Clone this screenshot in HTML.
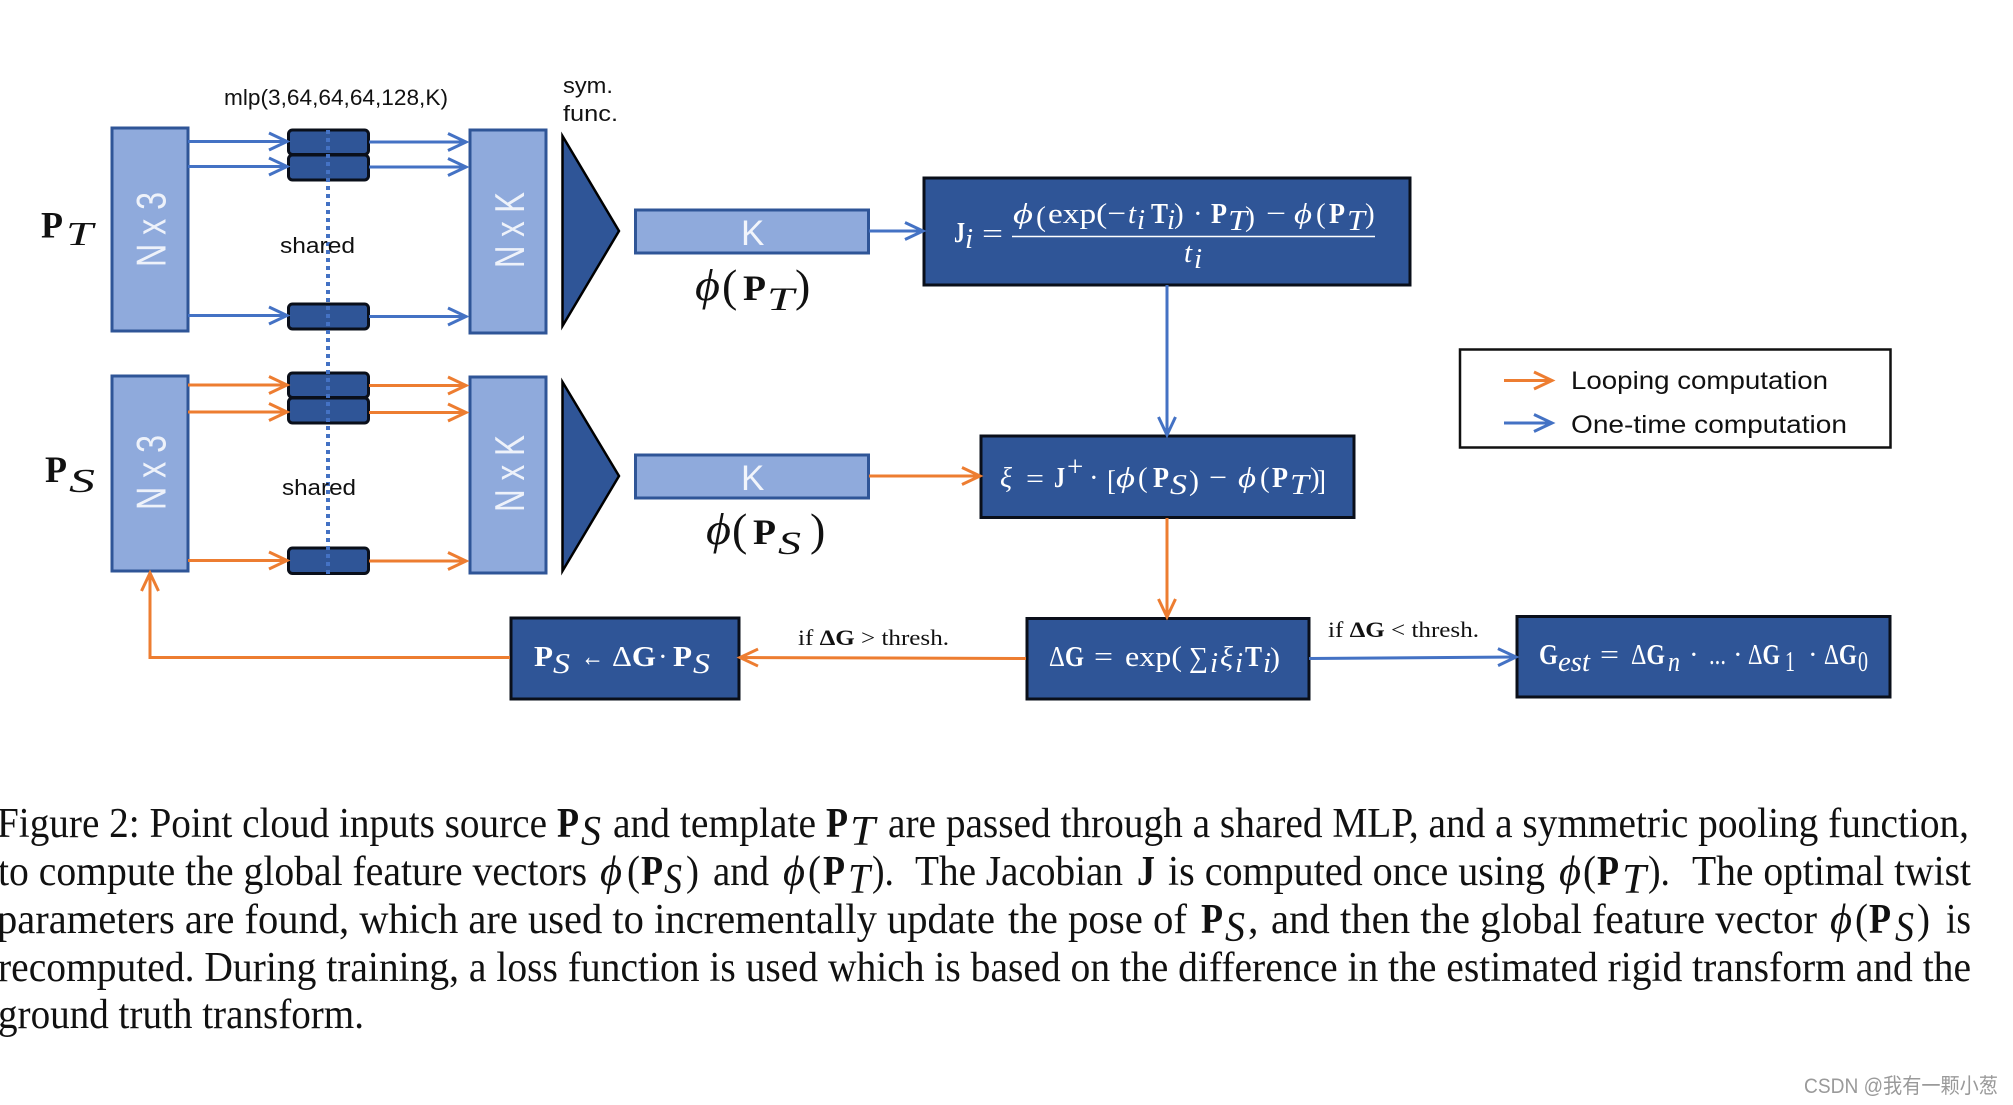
<!DOCTYPE html>
<html><head><meta charset="utf-8"><title>Figure 2</title>
<style>
html,body{margin:0;padding:0;background:#fff}
svg{display:block}
.s{font-family:"Liberation Sans",sans-serif;fill:#111}
.c{font-family:"Liberation Serif",serif;font-size:42px;fill:#111}
.b{font-weight:bold}
.i{font-style:italic}
.m{font-family:"Liberation Serif","DejaVu Serif",serif;font-size:29px;fill:#fff}
.k{font-family:"Liberation Serif","DejaVu Serif",serif;fill:#111}
.lt{fill:#8faadc;stroke:#2f5597;stroke-width:3}
.dk{fill:#2f5597;stroke:#0a0f1a;stroke-width:3}
.bl{stroke:#4472c4;stroke-width:3;fill:none;marker-end:url(#mb)}
.or{stroke:#ed7d31;stroke-width:3;fill:none;marker-end:url(#mo)}
.nx{font-family:"Liberation Sans",sans-serif;font-size:42px;fill:#eef2fa}
</style></head>
<body>
<svg xmlns="http://www.w3.org/2000/svg" width="2013" height="1105" viewBox="0 0 2013 1105">
<defs>
<marker id="mb" markerUnits="userSpaceOnUse" markerWidth="26" markerHeight="26" refX="21" refY="13" orient="auto"><path d="M3,4.5 L21,13 L3,21.5" fill="none" stroke="#4472c4" stroke-width="3"/></marker>
<marker id="mo" markerUnits="userSpaceOnUse" markerWidth="26" markerHeight="26" refX="21" refY="13" orient="auto"><path d="M3,4.5 L21,13 L3,21.5" fill="none" stroke="#ed7d31" stroke-width="3"/></marker>
</defs>

<!-- input / output blocks -->
<rect class="lt" x="112" y="128" width="76" height="203"/>
<rect class="lt" x="112" y="376" width="76" height="195"/>
<rect class="lt" x="470" y="130" width="76" height="203"/>
<rect class="lt" x="470" y="377" width="76" height="196"/>

<text class="nx" transform="translate(165.5,267) rotate(-90)" textLength="75" lengthAdjust="spacingAndGlyphs">N x 3</text>
<text class="nx" transform="translate(165.5,510) rotate(-90)" textLength="75" lengthAdjust="spacingAndGlyphs">N x 3</text>
<text class="nx" transform="translate(524,268) rotate(-90)" textLength="76" lengthAdjust="spacingAndGlyphs">N x K</text>
<text class="nx" transform="translate(524,512) rotate(-90)" textLength="77" lengthAdjust="spacingAndGlyphs">N x K</text>

<!-- mlp blocks -->
<rect class="dk" x="288.5" y="130" width="80" height="24.5" rx="4"/>
<rect class="dk" x="288.5" y="155" width="80" height="25" rx="4"/>
<rect class="dk" x="288.5" y="304" width="80" height="25" rx="4"/>
<rect class="dk" x="288.5" y="373" width="80" height="24.5" rx="4"/>
<rect class="dk" x="288.5" y="398" width="80" height="25" rx="4"/>
<rect class="dk" x="288.5" y="548" width="80" height="25.5" rx="4"/>

<line x1="328" y1="130" x2="328" y2="574" stroke="#4472c4" stroke-width="4" stroke-dasharray="4 4"/>

<!-- blue arrows top -->
<line class="bl" x1="188" y1="141.5" x2="287" y2="141.5"/>
<line class="bl" x1="188" y1="166.5" x2="287" y2="166.5"/>
<line class="bl" x1="188" y1="315.5" x2="287" y2="315.5"/>
<line class="bl" x1="369" y1="142" x2="466" y2="142"/>
<line class="bl" x1="369" y1="167" x2="466" y2="167"/>
<line class="bl" x1="369" y1="316.5" x2="466" y2="316.5"/>
<!-- orange arrows -->
<line class="or" x1="188" y1="385" x2="287" y2="385"/>
<line class="or" x1="188" y1="412" x2="287" y2="412"/>
<line class="or" x1="188" y1="560.5" x2="287" y2="560.5"/>
<line class="or" x1="369" y1="385.5" x2="466" y2="385.5"/>
<line class="or" x1="369" y1="412.5" x2="466" y2="412.5"/>
<line class="or" x1="369" y1="561" x2="466" y2="561"/>

<!-- triangles -->
<polygon points="562.5,136 619,231 562.5,326" fill="#2f5597" stroke="#000" stroke-width="2.5"/>
<polygon points="562.5,382 619,476 562.5,571" fill="#2f5597" stroke="#000" stroke-width="2.5"/>

<!-- K boxes -->
<rect class="lt" x="635.5" y="210" width="233" height="43"/>
<rect class="lt" x="635.5" y="455" width="233" height="43"/>
<text class="s" x="741" y="245" font-size="35" style="fill:#f2f5fb">K</text>
<text class="s" x="741" y="490" font-size="35" style="fill:#f2f5fb">K</text>

<!-- dark formula boxes -->
<rect class="dk" x="924" y="178" width="486" height="107"/>
<rect class="dk" x="981" y="436" width="373" height="81.5"/>
<rect class="dk" x="511" y="618" width="228" height="81"/>
<rect class="dk" x="1027" y="618.5" width="282" height="80.5"/>
<rect class="dk" x="1517" y="616.5" width="373" height="80.5"/>

<!-- connectors -->
<line class="bl" x1="869" y1="231" x2="923" y2="231"/>
<line class="bl" x1="1167" y1="285" x2="1167" y2="435"/>
<line class="or" x1="869" y1="476" x2="980" y2="476"/>
<line class="or" x1="1167" y1="518" x2="1167" y2="617"/>
<line class="or" x1="1026" y1="658.5" x2="740" y2="657.5"/>
<polyline class="or" points="510,657.5 150,657.5 150,573"/>
<line class="bl" x1="1309" y1="658.5" x2="1516" y2="657"/>

<!-- legend -->
<rect x="1460" y="349.5" width="430.5" height="98" fill="#fff" stroke="#111" stroke-width="2.5"/>
<line class="or" x1="1504" y1="380.5" x2="1552" y2="380.5"/>
<line class="bl" x1="1504" y1="423" x2="1552" y2="423"/>
<text class="s" x="1571" y="389" font-size="25" textLength="257" lengthAdjust="spacingAndGlyphs">Looping computation</text>
<text class="s" x="1571" y="433" font-size="25" textLength="276" lengthAdjust="spacingAndGlyphs">One-time computation</text>

<!-- small labels -->
<text class="s" x="224" y="105" font-size="22" textLength="224" lengthAdjust="spacingAndGlyphs">mlp(3,64,64,64,128,K)</text>
<text class="s" x="563" y="93" font-size="22" textLength="50" lengthAdjust="spacingAndGlyphs">sym.</text>
<text class="s" x="563" y="121" font-size="22" textLength="55" lengthAdjust="spacingAndGlyphs">func.</text>
<text class="s" x="280" y="253" font-size="22" textLength="75" lengthAdjust="spacingAndGlyphs">shared</text>
<text class="s" x="282" y="495" font-size="22" textLength="74" lengthAdjust="spacingAndGlyphs">shared</text>
<text class="k" x="798" y="645" font-size="22" textLength="151" lengthAdjust="spacingAndGlyphs">if <tspan class="b">ΔG</tspan> &gt; thresh.</text>
<text class="k" x="1328" y="637" font-size="22" textLength="151" lengthAdjust="spacingAndGlyphs">if <tspan class="b">ΔG</tspan> &lt; thresh.</text>

<!-- P labels -->
<text class="k b" x="41" y="237.5" font-size="37" textLength="22" lengthAdjust="spacingAndGlyphs">P</text>
<text class="k i" x="66" y="245" font-size="34" textLength="27" lengthAdjust="spacingAndGlyphs">T</text>
<text class="k b" x="45" y="482" font-size="37" textLength="22" lengthAdjust="spacingAndGlyphs">P</text>
<text class="k i" x="69" y="492" font-size="34" textLength="26" lengthAdjust="spacingAndGlyphs">S</text>

<!-- phi labels -->
<text class="k i" x="695" y="300" font-size="44" textLength="25" lengthAdjust="spacingAndGlyphs">ϕ</text>
<text class="k" x="722" y="301" font-size="46">(</text>
<text class="k b" x="743" y="300" font-size="36" textLength="23" lengthAdjust="spacingAndGlyphs">P</text>
<text class="k i" x="767" y="310" font-size="33" textLength="27" lengthAdjust="spacingAndGlyphs">T</text>
<text class="k" x="795" y="301" font-size="46">)</text>
<text class="k i" x="706" y="544" font-size="44" textLength="25" lengthAdjust="spacingAndGlyphs">ϕ</text>
<text class="k" x="732" y="545" font-size="46">(</text>
<text class="k b" x="753" y="544" font-size="36" textLength="23" lengthAdjust="spacingAndGlyphs">P</text>
<text class="k i" x="778" y="554" font-size="33" textLength="23" lengthAdjust="spacingAndGlyphs">S</text>
<text class="k" x="810" y="545" font-size="46">)</text>

<!-- J formula -->
<text class="m b" x="954" y="242" font-size="27" textLength="11" lengthAdjust="spacingAndGlyphs">J</text>
<text class="m i" x="965" y="248" font-size="19">i</text>
<text class="m" x="982" y="243" textLength="21" lengthAdjust="spacingAndGlyphs">=</text>
<text class="m i" x="1013" y="223" textLength="20" lengthAdjust="spacingAndGlyphs">ϕ</text>
<text class="m" x="1036" y="226" font-size="40" textLength="10" lengthAdjust="spacingAndGlyphs">(</text>
<text class="m" x="1048" y="223" textLength="78" lengthAdjust="spacingAndGlyphs">exp(−</text>
<text class="m i" x="1128" y="223">t</text>
<text class="m i" x="1137" y="229" font-size="18">i</text>
<text class="m b" x="1151" y="223" textLength="17" lengthAdjust="spacingAndGlyphs">T</text>
<text class="m i" x="1167" y="229" font-size="18">i</text>
<text class="m" x="1174" y="223">)</text>
<text class="m" x="1193" y="223">·</text>
<text class="m b" x="1211" y="223" textLength="16" lengthAdjust="spacingAndGlyphs">P</text>
<text class="m i" x="1228" y="230" font-size="22" textLength="19" lengthAdjust="spacingAndGlyphs">T</text>
<text class="m" x="1245" y="226" font-size="40" textLength="10" lengthAdjust="spacingAndGlyphs">)</text>
<text class="m" x="1266" y="223" textLength="20" lengthAdjust="spacingAndGlyphs">−</text>
<text class="m i" x="1294" y="223" textLength="18" lengthAdjust="spacingAndGlyphs">ϕ</text>
<text class="m" x="1316" y="223">(</text>
<text class="m b" x="1329" y="223" textLength="16" lengthAdjust="spacingAndGlyphs">P</text>
<text class="m i" x="1347" y="230" font-size="22" textLength="18" lengthAdjust="spacingAndGlyphs">T</text>
<text class="m" x="1365" y="223">)</text>
<line x1="1012" y1="236.5" x2="1375" y2="236.5" stroke="#fff" stroke-width="1.5"/>
<text class="m i" x="1184" y="262">t</text>
<text class="m i" x="1194" y="268" font-size="19">i</text>

<!-- xi formula -->
<text class="m i" x="1000" y="487" textLength="12" lengthAdjust="spacingAndGlyphs">ξ</text>
<text class="m" x="1026" y="488" textLength="18" lengthAdjust="spacingAndGlyphs">=</text>
<text class="m b" x="1054" y="487" textLength="11" lengthAdjust="spacingAndGlyphs">J</text>
<text class="m" x="1067" y="476" font-size="20">+</text>
<text class="m" x="1089" y="487">·</text>
<text class="m" x="1107" y="490" font-size="38" textLength="9" lengthAdjust="spacingAndGlyphs">[</text>
<text class="m i" x="1116" y="487" textLength="19" lengthAdjust="spacingAndGlyphs">ϕ</text>
<text class="m" x="1138" y="487">(</text>
<text class="m b" x="1153" y="487" textLength="16" lengthAdjust="spacingAndGlyphs">P</text>
<text class="m i" x="1170" y="494" font-size="22" textLength="17" lengthAdjust="spacingAndGlyphs">S</text>
<text class="m" x="1189" y="490" font-size="36" textLength="10" lengthAdjust="spacingAndGlyphs">)</text>
<text class="m" x="1209" y="487" textLength="18" lengthAdjust="spacingAndGlyphs">−</text>
<text class="m i" x="1238" y="487" textLength="18" lengthAdjust="spacingAndGlyphs">ϕ</text>
<text class="m" x="1260" y="487">(</text>
<text class="m b" x="1272" y="487" textLength="16" lengthAdjust="spacingAndGlyphs">P</text>
<text class="m i" x="1290" y="494" font-size="22" textLength="19" lengthAdjust="spacingAndGlyphs">T</text>
<text class="m" x="1310" y="487">)</text>
<text class="m" x="1317" y="490" font-size="38" textLength="9" lengthAdjust="spacingAndGlyphs">]</text>

<!-- PS update -->
<text class="m b" x="534" y="666" textLength="19" lengthAdjust="spacingAndGlyphs">P</text>
<text class="m i" x="553" y="673" font-size="22" textLength="17" lengthAdjust="spacingAndGlyphs">S</text>
<text class="m" x="581" y="666" textLength="23" lengthAdjust="spacingAndGlyphs">←</text>
<text class="m" x="612" y="666" textLength="44" lengthAdjust="spacingAndGlyphs">Δ<tspan class="b">G</tspan></text>
<text class="m" x="658" y="666">·</text>
<text class="m b" x="673" y="666" textLength="19" lengthAdjust="spacingAndGlyphs">P</text>
<text class="m i" x="693" y="673" font-size="22" textLength="17" lengthAdjust="spacingAndGlyphs">S</text>

<!-- delta G -->
<text class="m" x="1049" y="666" textLength="35" lengthAdjust="spacingAndGlyphs">Δ<tspan class="b">G</tspan></text>
<text class="m" x="1094" y="666" textLength="19" lengthAdjust="spacingAndGlyphs">=</text>
<text class="m" x="1125" y="666" textLength="57" lengthAdjust="spacingAndGlyphs">exp(</text>
<text class="m" x="1189" y="667" font-size="32" textLength="19" lengthAdjust="spacingAndGlyphs">∑</text>
<text class="m i" x="1210" y="672" font-size="18">i</text>
<text class="m i" x="1220" y="666" textLength="13" lengthAdjust="spacingAndGlyphs">ξ</text>
<text class="m i" x="1235" y="672" font-size="18">i</text>
<text class="m b" x="1245" y="666" textLength="17" lengthAdjust="spacingAndGlyphs">T</text>
<text class="m i" x="1263" y="672" font-size="18">i</text>
<text class="m" x="1270" y="667" font-size="33" textLength="10" lengthAdjust="spacingAndGlyphs">)</text>

<!-- G est -->
<text class="m b" x="1539" y="664" textLength="19" lengthAdjust="spacingAndGlyphs">G</text>
<text class="m i" x="1558" y="671" font-size="23" textLength="32" lengthAdjust="spacingAndGlyphs">est</text>
<text class="m" x="1600" y="664" textLength="19" lengthAdjust="spacingAndGlyphs">=</text>
<text class="m" x="1631" y="664" textLength="34" lengthAdjust="spacingAndGlyphs">Δ<tspan class="b">G</tspan></text>
<text class="m i" x="1668" y="671" font-size="23" textLength="12" lengthAdjust="spacingAndGlyphs">n</text>
<text class="m" x="1689" y="664">·</text>
<text class="m" x="1709" y="664" textLength="17" lengthAdjust="spacingAndGlyphs">...</text>
<text class="m" x="1733" y="664">·</text>
<text class="m" x="1748" y="664" textLength="32" lengthAdjust="spacingAndGlyphs">Δ<tspan class="b">G</tspan></text>
<text class="m" x="1785" y="671" font-size="22" textLength="10" lengthAdjust="spacingAndGlyphs">1</text>
<text class="m" x="1808" y="664">·</text>
<text class="m" x="1824" y="664" textLength="33" lengthAdjust="spacingAndGlyphs">Δ<tspan class="b">G</tspan></text>
<text class="m" x="1858" y="671" font-size="22" textLength="10" lengthAdjust="spacingAndGlyphs">0</text>

<!-- caption line 1 -->
<text class="c" x="-3" y="837" textLength="550" lengthAdjust="spacingAndGlyphs">Figure 2: Point cloud inputs source</text>
<text class="c b" x="557" y="837" textLength="22" lengthAdjust="spacingAndGlyphs">P</text>
<text class="c i" x="581" y="845" font-size="30" textLength="20" lengthAdjust="spacingAndGlyphs">S</text>
<text class="c" x="613" y="837" textLength="203" lengthAdjust="spacingAndGlyphs">and template</text>
<text class="c b" x="826" y="837" textLength="22" lengthAdjust="spacingAndGlyphs">P</text>
<text class="c i" x="850" y="845" font-size="30" textLength="25" lengthAdjust="spacingAndGlyphs">T</text>
<text class="c" x="888" y="837" textLength="1081" lengthAdjust="spacingAndGlyphs">are passed through a shared MLP, and a symmetric pooling function,</text>

<!-- caption line 2 -->
<text class="c" x="-2" y="885" textLength="589" lengthAdjust="spacingAndGlyphs">to compute the global feature vectors</text>
<text class="c i" x="600" y="885" textLength="22" lengthAdjust="spacingAndGlyphs">ϕ</text><text class="c" x="627" y="885" textLength="13" lengthAdjust="spacingAndGlyphs">(</text>
<text class="c b" x="641" y="885" textLength="22" lengthAdjust="spacingAndGlyphs">P</text>
<text class="c i" x="664" y="893" font-size="30" textLength="18" lengthAdjust="spacingAndGlyphs">S</text>
<text class="c" x="686" y="885" textLength="13" lengthAdjust="spacingAndGlyphs">)</text>
<text class="c" x="713" y="885" textLength="56" lengthAdjust="spacingAndGlyphs">and</text>
<text class="c i" x="783" y="885" textLength="22" lengthAdjust="spacingAndGlyphs">ϕ</text><text class="c" x="808" y="885" textLength="13" lengthAdjust="spacingAndGlyphs">(</text>
<text class="c b" x="823" y="885" textLength="22" lengthAdjust="spacingAndGlyphs">P</text>
<text class="c i" x="848" y="893" font-size="30" textLength="22" lengthAdjust="spacingAndGlyphs">T</text>
<text class="c" x="872" y="885" textLength="22" lengthAdjust="spacingAndGlyphs">).</text>
<text class="c" x="915" y="885" textLength="208" lengthAdjust="spacingAndGlyphs">The Jacobian</text>
<text class="c b" x="1137" y="885" textLength="18" lengthAdjust="spacingAndGlyphs">J</text>
<text class="c" x="1168" y="885" textLength="377" lengthAdjust="spacingAndGlyphs">is computed once using</text>
<text class="c i" x="1559" y="885" textLength="22" lengthAdjust="spacingAndGlyphs">ϕ</text><text class="c" x="1583" y="885" textLength="13" lengthAdjust="spacingAndGlyphs">(</text>
<text class="c b" x="1597" y="885" textLength="22" lengthAdjust="spacingAndGlyphs">P</text>
<text class="c i" x="1622" y="893" font-size="30" textLength="24" lengthAdjust="spacingAndGlyphs">T</text>
<text class="c" x="1648" y="885" textLength="22" lengthAdjust="spacingAndGlyphs">).</text>
<text class="c" x="1692" y="885" textLength="279" lengthAdjust="spacingAndGlyphs">The optimal twist</text>

<!-- caption line 3 -->
<text class="c" x="-3" y="933" textLength="998" lengthAdjust="spacingAndGlyphs">parameters are found, which are used to incrementally update</text>
<text class="c" x="1008" y="933" textLength="179" lengthAdjust="spacingAndGlyphs">the pose of</text>
<text class="c b" x="1201" y="933" textLength="22" lengthAdjust="spacingAndGlyphs">P</text>
<text class="c i" x="1225" y="941" font-size="30" textLength="20" lengthAdjust="spacingAndGlyphs">S</text>
<text class="c" x="1248" y="933">,</text>
<text class="c" x="1271" y="933" textLength="546" lengthAdjust="spacingAndGlyphs">and then the global feature vector</text>
<text class="c i" x="1830" y="933" textLength="22" lengthAdjust="spacingAndGlyphs">ϕ</text><text class="c" x="1855" y="933" textLength="13" lengthAdjust="spacingAndGlyphs">(</text>
<text class="c b" x="1869" y="933" textLength="22" lengthAdjust="spacingAndGlyphs">P</text>
<text class="c i" x="1895" y="941" font-size="30" textLength="19" lengthAdjust="spacingAndGlyphs">S</text>
<text class="c" x="1917" y="933" textLength="13" lengthAdjust="spacingAndGlyphs">)</text>
<text class="c" x="1946" y="933" textLength="25" lengthAdjust="spacingAndGlyphs">is</text>

<!-- caption lines 4,5 -->
<text class="c" x="-2" y="981" textLength="1973" lengthAdjust="spacingAndGlyphs">recomputed. During training, a loss function is used which is based on the difference in the estimated rigid transform and the</text>
<text class="c" x="-2" y="1028" textLength="366" lengthAdjust="spacingAndGlyphs">ground truth transform.</text>

<!-- watermark -->
<text x="1804" y="1093" font-size="21" fill="#9a9a9a" style="font-family:'Liberation Sans','Noto Sans CJK SC',sans-serif" textLength="194" lengthAdjust="spacingAndGlyphs">CSDN @我有一颗小葱</text>
</svg>
</body></html>
